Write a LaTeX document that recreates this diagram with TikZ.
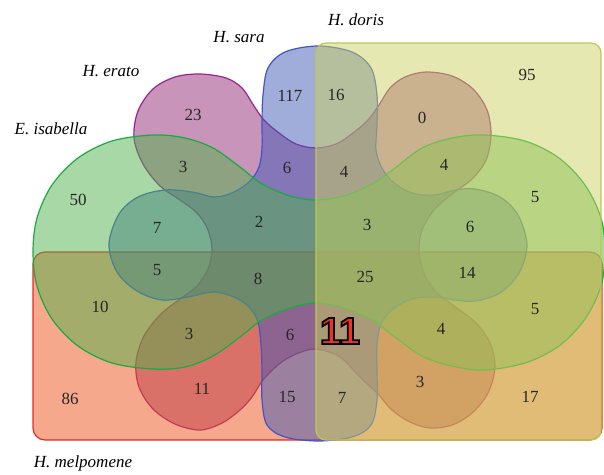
\documentclass[tikz,border=0pt]{standalone}
\usepackage{fontspec}
\setmainfont{Liberation Serif}
\newfontfamily\bigsans{Liberation Sans}
\definecolor{erato}{RGB}{145,41,115}
\definecolor{eratoline}{RGB}{155,35,145}
\definecolor{melpo}{RGB}{237,81,25}
\definecolor{melpoline}{RGB}{235,40,35}
\definecolor{sara}{RGB}{65,89,181}
\definecolor{saraline}{RGB}{65,85,200}
\definecolor{isab}{RGB}{81,177,75}
\definecolor{isabline}{RGB}{25,170,65}
\definecolor{doris}{RGB}{203,209,97}
\definecolor{dorisline}{RGB}{190,200,80}
\definecolor{bigred}{RGB}{238,50,35}
\newcommand{\outlined}[1]{\special{pdf:literal direct 2 Tr 1.8 w 0 0 0 RG}#1\special{pdf:literal direct 0 Tr}}

\begin{document}
\begin{tikzpicture}[x=1pt, y=-1pt,
    set/.style={line width=1.2pt, fill opacity=0.5},
    count/.style={font=\fontsize{17}{19}\selectfont, text=black!85, inner sep=0pt},
    species/.style={font=\fontsize{17}{19}\selectfont\itshape, inner sep=0pt},
    big/.style={font=\bigsans\bfseries\fontsize{38}{40}\selectfont, inner sep=0pt}]
\useasboundingbox (0,0) rectangle (604,474);
\clip (0,0) rectangle (604,474);

% H. erato
\filldraw[set, draw=eratoline, fill=erato] plot[smooth cycle, tension=0.55] coordinates {
  (316,148) (336,144) (353,133) (368,120) (379,105) (390,88) (405,77) (426,72) (452,76) (473,89)
  (487,110) (491,135) (486,160) (472,179) (452,194) (434,210) (422,230) (419,250) (423,271)
  (435,291) (454,306) (475,322) (490,343) (495,367) (488,393) (472,413) (452,425) (430,428)
  (410,422) (392,410) (377,393) (360,377) (340,357) (316,349) (296,354) (279,364) (263,380)
  (252,397) (240,410) (222,423) (200,430) (175,424) (153,409) (139,387) (136,362) (144,336)
  (161,314) (180,299) (197,286) (208,269) (212,250) (208,230) (197,213) (180,200) (160,186)
  (143,164) (134,138) (138,111) (153,89) (175,77) (200,74) (226,78) (242,88) (254,106)
  (264,120) (279,133) (296,144)};
% H. melpomene
\filldraw[set, draw=melpoline, fill=melpo, rounded corners=12pt] (33,252) rectangle (602,440);
% H. sara
\filldraw[set, draw=saraline, fill=sara] plot[smooth cycle, tension=0.55] coordinates {
  (263,95) (268,68) (285,52) (318,46) (352,52) (371,68) (377,95) (377,125) (376,150)
  (382,168) (393,182) (412,193) (435,195) (455,190) (475,189) (500,197) (518,215) (527,245)
  (519,273) (500,293) (475,301) (455,300) (435,297) (412,299) (393,309) (381,324) (377,345)
  (377,372) (377,400) (371,425) (352,437) (318,441) (285,437) (267,425) (262,400) (262,372)
  (261,345) (258,322) (249,307) (234,297) (213,292) (188,297) (162,300) (137,291) (117,272)
  (109,244) (119,214) (138,197) (165,190) (192,192) (215,197) (234,192) (250,181) (259,167)
  (262,148) (262,122)};
% E. isabella
\filldraw[set, draw=isabline, fill=isab] plot[smooth cycle, tension=0.55] coordinates {
  (33,252) (37,218) (52,185) (78,158) (112,141) (153,135) (185,138) (213,148) (240,167)
  (262,184) (290,196) (316,200) (344,196) (372,184) (395,168) (422,148) (452,138) (484,135)
  (525,141) (559,158) (585,185) (601,218) (605,252) (601,286) (585,319) (559,346) (525,363)
  (484,370) (452,366) (422,356) (395,337) (372,320) (344,308) (316,303) (290,308) (262,320)
  (240,337) (213,356) (185,367) (153,369) (112,363) (78,346) (52,319) (37,286)};
% H. doris
\filldraw[set, draw=dorisline, fill=doris, rounded corners=10pt] (316,43) rectangle (601,440);

\node[species] (doris) at (356,20) {H. doris};
\node[species] (sara) at (239,37) {H. sara};
\node[species] (erato) at (111,71) {H. erato};
\node[species] (isabella) at (51,129) {E. isabella};
\node[species] (melpomene) at (83,463) {H. melpomene};

\node[count] (d) at (527,75) {95};
\node[count] (s) at (290,96) {117};
\node[count] (sd) at (336,95) {16};
\node[count] (e) at (193,115) {23};
\node[count] (ed) at (422,118) {0};
\node[count] (ei) at (183,167) {3};
\node[count] (se) at (287,168) {6};
\node[count] (sed) at (344,172) {4};
\node[count] (eid) at (444,165) {4};
\node[count] (i) at (78,200) {50};
\node[count] (id) at (535,197) {5};
\node[count] (si) at (157,228) {7};
\node[count] (sei) at (259,222) {2};
\node[count] (seid) at (367,225) {3};
\node[count] (sid) at (470,227) {6};
\node[count] (sim) at (157,270) {5};
\node[count] (seim) at (258,279) {8};
\node[count] (seidm) at (365,277) {25};
\node[count] (sidm) at (467,273) {14};
\node[count] (im) at (100,307) {10};
\node[count] (idm) at (535,309) {5};
\node[count] (eim) at (189,334) {3};
\node[count] (sem) at (290,335) {6};
\node[count] (eidm) at (441,329) {4};
\node[count] (m) at (70,399) {86};
\node[count] (em) at (202,389) {11};
\node[count] (sm) at (287,397) {15};
\node[count] (sdm) at (342,398) {7};
\node[count] (edm) at (420,382) {3};
\node[count] (dm) at (530,397) {17};

\node[big, text=bigred] (sedm) at (340,331) {\outlined{11}};
\end{tikzpicture}
\end{document}
